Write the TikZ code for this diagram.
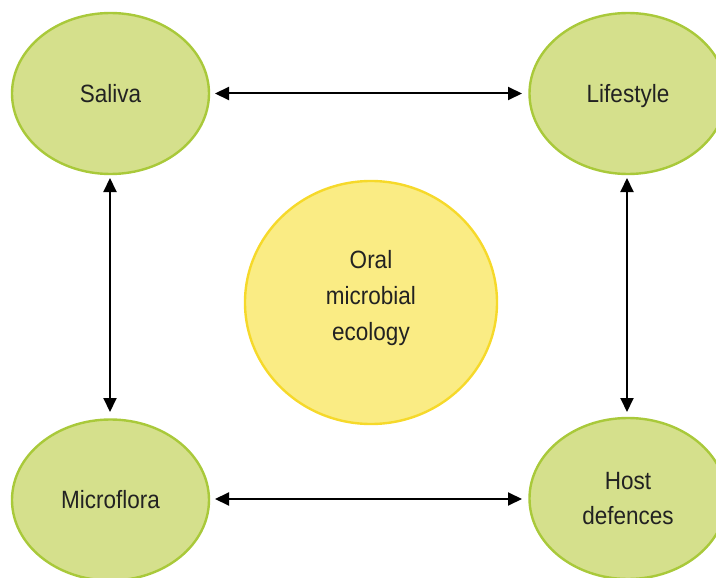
\documentclass[tikz,border=0pt]{standalone}
\usepackage{fontspec}
\setmainfont{Liberation Sans}[FakeStretch=0.9]
\usetikzlibrary{shapes.geometric,arrows.meta}
\definecolor{gfill}{HTML}{D5E08C}
\definecolor{gline}{HTML}{A9C93A}
\definecolor{yfill}{HTML}{FAEC84}
\definecolor{yline}{HTML}{F6D92A}
\definecolor{txt}{HTML}{222222}
\begin{document}
\begin{tikzpicture}[x=1pt,y=-1pt,
  factor/.style={ellipse,draw=gline,fill=gfill,line width=2.4pt,minimum width=197pt,minimum height=161pt,inner sep=0pt,align=center,text=txt,font=\fontsize{25}{35}\selectfont},
  core/.style={ellipse,draw=yline,fill=yfill,line width=2.4pt,minimum width=252pt,minimum height=243pt,inner sep=0pt,align=center,text=txt,font=\fontsize{25}{36}\selectfont},
  link/.style={line width=2pt,{Triangle[width=13pt,length=14pt]}-{Triangle[width=13pt,length=14pt]}}]
\useasboundingbox (0,0) rectangle (716,578);
\node[factor] (sal) at (110.5,93.5) {Saliva};
\node[factor,text depth=0pt] (life) at (628,93.5) {Lifestyle};
\node[factor] (micro) at (110.5,500) {Microflora};
\node[factor] (host) at (628,498.5) {Host\\defences};
\node[core,text depth=15pt] (oral) at (371,302.5) {Oral\\microbial\\ecology};
\coordinate (a1) at (215,93.5);
\coordinate (a2) at (522,93.5);
\coordinate (b1) at (215,499);
\coordinate (b2) at (522,499);
\coordinate (c1) at (110,178);
\coordinate (c2) at (110,412);
\coordinate (d1) at (627,178);
\coordinate (d2) at (627,412);
\draw[link] (a1) -- (a2);
\draw[link] (b1) -- (b2);
\draw[link] (c1) -- (c2);
\draw[link] (d1) -- (d2);
\end{tikzpicture}
\end{document}
